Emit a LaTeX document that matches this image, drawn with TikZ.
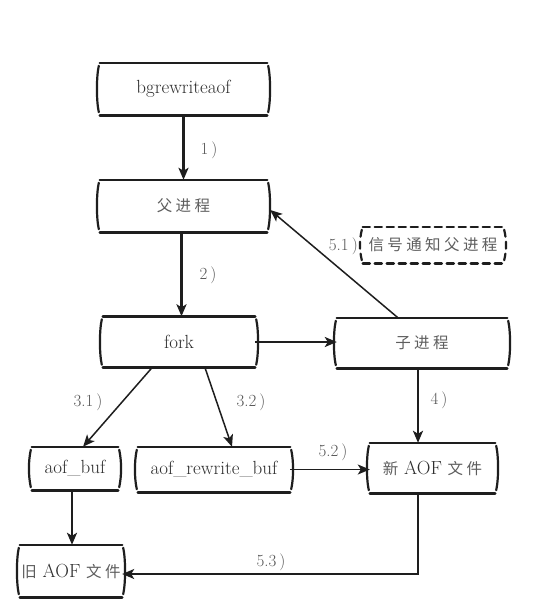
\documentclass[tikz,border=0pt]{standalone}
\usepackage{fontspec}
\usetikzlibrary{arrows.meta,calc}
\newfontfamily\cjk[LetterSpace=22]{Noto Sans CJK SC}
\definecolor{ink}{HTML}{1E1E1E}
\definecolor{txt}{HTML}{2E2E2E}
\definecolor{cjktxt}{HTML}{5E5E5E}
\newcommand\sketchbox[2][]{%
  \draw[bord,#1] ([xshift=0pt]#2.north west) -- ([xshift=0pt]#2.north east);
  \draw[bord,#1] ([xshift=0pt]#2.south west) -- ([xshift=0pt]#2.south east);
  \draw[side,#1] ([xshift=-1pt,yshift=-3pt]#2.north west) .. controls ([xshift=-3.5pt,yshift=-14pt]#2.north west) and ([xshift=-3.5pt,yshift=14pt]#2.south west) .. ([xshift=-1pt,yshift=3pt]#2.south west);
  \draw[side,#1] ([xshift=1pt,yshift=-3pt]#2.north east) .. controls ([xshift=3.5pt,yshift=-14pt]#2.north east) and ([xshift=3.5pt,yshift=14pt]#2.south east) .. ([xshift=1pt,yshift=3pt]#2.south east);
}
\newcommand\zh[1]{{\fontsize{15.5}{18}\cjk\color{cjktxt}#1}}
\tikzset{
  box/.style={inner sep=0pt, text=txt, font=\fontsize{19}{22}\selectfont},
  bord/.style={ink, line width=2.6pt, line cap=round},
  side/.style={ink, line width=2.2pt, line cap=round},
  lbl/.style={inner sep=0pt, text=txt!80, font=\fontsize{17}{20}\selectfont},
  thickarrow/.style={ink, line width=2.2pt, -{Stealth[length=12pt,width=10pt,inset=3pt]}},
  thinarrow/.style={ink, line width=1.5pt, -{Stealth[length=12pt,width=10pt,inset=3pt]}},
}
\begin{document}
\begin{tikzpicture}[x=1pt,y=-1pt]
\useasboundingbox (0,0) rectangle (537,611);
\fill[white] (0,0) rectangle (537,611);

\node[box, minimum width=167pt, minimum height=52pt] (bg) at (183.5,89) {bgrewriteaof};
\node[box, minimum width=167pt, minimum height=52pt] (parent) at (183.5,206) {\zh{父进程}};
\node[box, minimum width=152pt, minimum height=51pt] (fork) at (179,342) {fork};
\node[box, minimum width=170pt, minimum height=50pt] (child) at (422,343) {\zh{子进程}};
\node[box, minimum width=140pt, minimum height=36pt] (sig) at (433,245) {\zh{信号通知父进程}};
\node[box, minimum width=86pt, minimum height=43pt] (aofbuf) at (75,468.5) {aof\_buf};
\node[box, minimum width=152pt, minimum height=45pt] (arb) at (214,469.5) {aof\_rewrite\_buf};
\node[box, minimum width=125pt, minimum height=50pt] (newaof) at (432.5,468) {\zh{新} AOF \zh{文件}};
\node[box, minimum width=102pt, minimum height=52pt] (oldaof) at (71,571) {\zh{旧} AOF \zh{文件}};

\sketchbox{bg}
\sketchbox{parent}
\sketchbox{fork}
\sketchbox{child}
\sketchbox[dash pattern=on 7pt off 5pt]{sig}
\sketchbox{aofbuf}
\sketchbox{arb}
\sketchbox{newaof}
\sketchbox{oldaof}

\draw[thickarrow] (bg.south) -- (parent.north);
\draw[thickarrow] ([xshift=-2pt]parent.south) -- ([xshift=-2pt]parent.south |- fork.north);
\draw[thickarrow] (fork.east) -- (fork.east -| child.west);
\draw[thinarrow] ([xshift=-24pt]child.north) -- ([xshift=3pt,yshift=-4pt]parent.east);
\draw[thinarrow] ([xshift=-27pt]fork.south) -- ([xshift=8pt]aofbuf.north);
\draw[thinarrow] ([xshift=26pt]fork.south) -- ([xshift=18pt]arb.north);
\draw[thickarrow] ([xshift=-4pt]child.south) -- ([xshift=-4pt]child.south |- newaof.north);
\draw[thickarrow] ([xshift=-3pt]aofbuf.south) -- ([xshift=-3pt]aofbuf.south |- oldaof.north);
\draw[thinarrow] (arb.east) -- (arb.east -| newaof.west);
\draw[thinarrow] ([xshift=-14.5pt]newaof.south) |- ([yshift=-3pt]oldaof.east);

\node[lbl] (l1) at (209,150) {1\kern3pt)};
\node[lbl] (l2) at (208,275) {2\kern3pt)};
\node[lbl] (l31) at (88,402) {3.1\kern3pt)};
\node[lbl] (l32) at (251,402) {3.2\kern3pt)};
\node[lbl] (l4) at (439,400) {4\kern3pt)};
\node[lbl, anchor=east] (l51) at (358,246) {5.1\kern3pt)};
\node[lbl] (l52) at (333,452) {5.2\kern3pt)};
\node[lbl] (l53) at (271,562) {5.3\kern3pt)};
\end{tikzpicture}
\end{document}
